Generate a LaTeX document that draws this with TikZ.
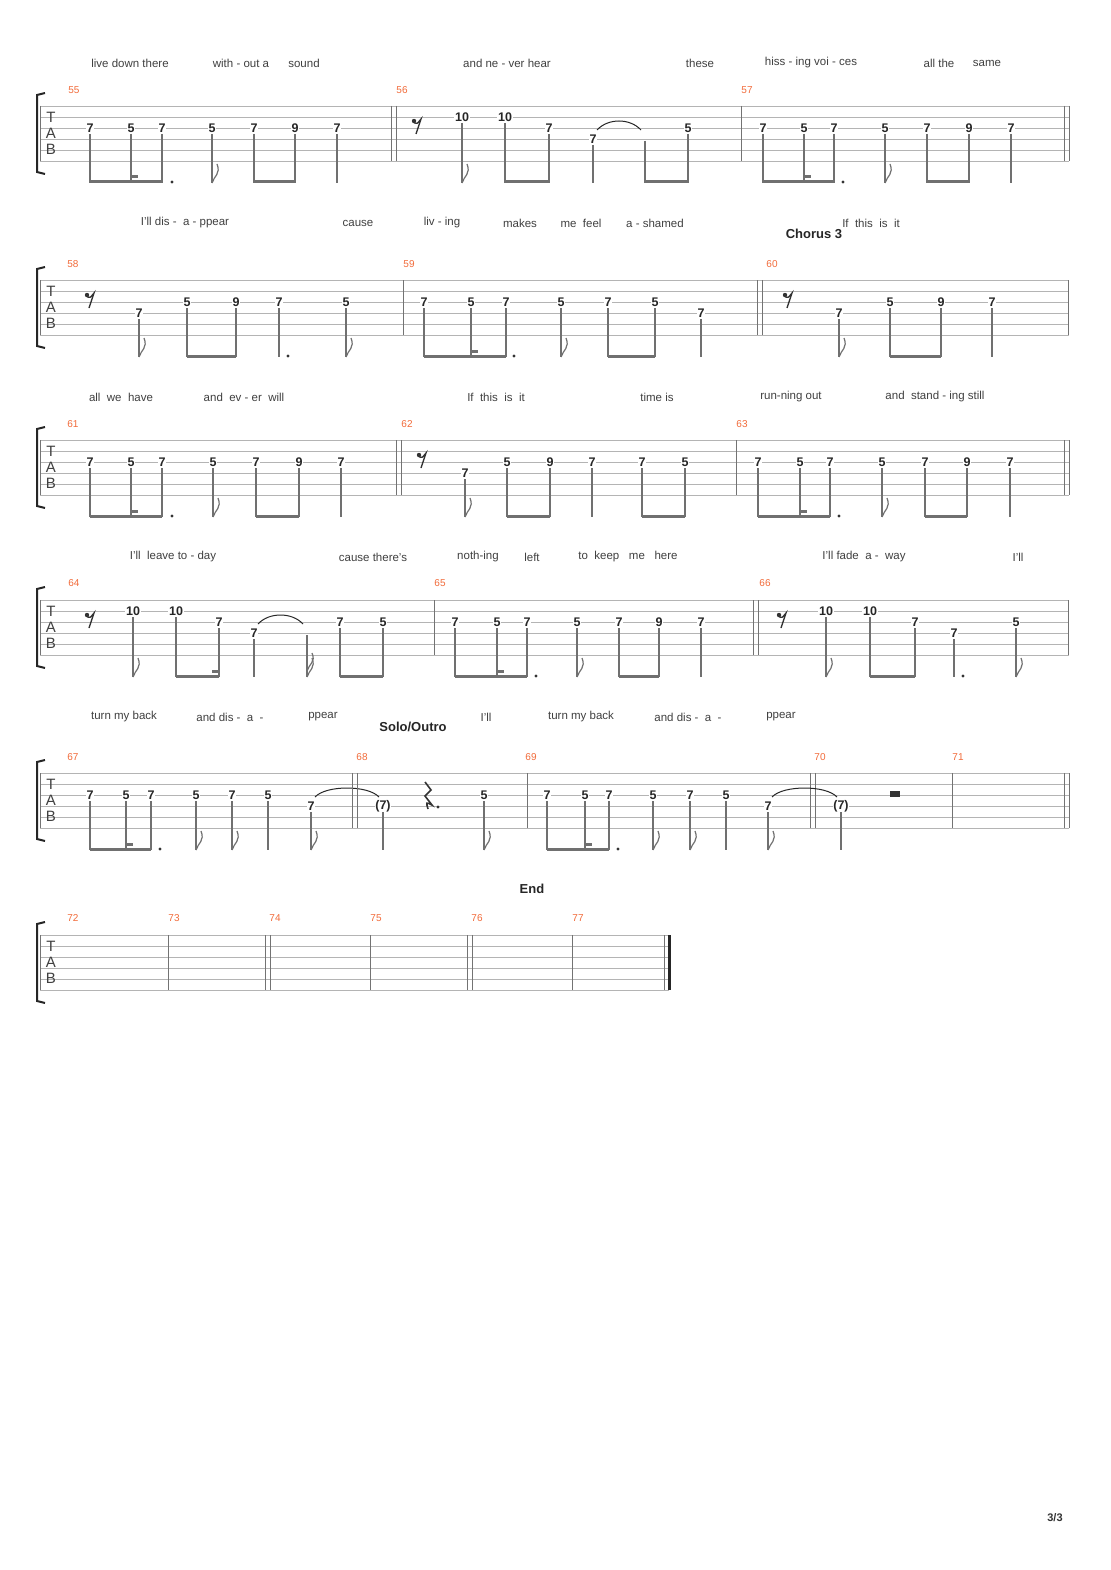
\documentclass[tikz,border=0pt]{standalone}
\usepackage{fontspec}
\setmainfont{Liberation Sans}
\definecolor{numorange}{HTML}{F26B3A}
\definecolor{staffgray}{HTML}{B4B4B4}
\definecolor{stemgray}{HTML}{707070}
\tikzset{
  fret/.style={fill=white, inner sep=0.6pt, font=\fontsize{12.5}{12}\selectfont\bfseries, text=black!85},
  lyric/.style={inner sep=0pt, font=\fontsize{11.5}{12}\selectfont, text=black!75},
  barnum/.style={inner sep=0pt, font=\fontsize{10}{10}\selectfont, text=numorange},
  section/.style={inner sep=0pt, font=\fontsize{13}{13}\selectfont\bfseries, text=black!85},
  staffline/.style={staffgray, line width=0.8pt},
  barline/.style={black!55, line width=0.9pt},
  stemline/.style={stemgray, line width=1.2pt},
  beamline/.style={stemgray, line width=3pt},
}
% staff with T A B and bracket: top, right end
\newcommand\staff[2]{%
  \foreach \i in {0,...,5} \draw[staffline] (40,#1+11*\i) -- (#2,#1+11*\i);
  \draw[barline] (40,#1) -- (40,#1+55);
  \draw[black!85, line width=2pt] (45,#1-13) -- (37,#1-11) -- (37,#1+66) -- (45,#1+68);
  \node[inner sep=0pt, font=\fontsize{15}{15}\selectfont, text=black!75] at (51,#1+11) {T};
  \node[inner sep=0pt, font=\fontsize{15}{15}\selectfont, text=black!75] at (51,#1+27) {A};
  \node[inner sep=0pt, font=\fontsize{15}{15}\selectfont, text=black!75] at (51,#1+43) {B};
}
% notes with stems: top, list x/string/text
\newcommand\notes[2]{%
  \foreach \x/\s/\t in {#2} {
    \draw[stemline] (\x,#1+11*\s-5) -- (\x,#1+77);
    \node[fret] at (\x,#1+11*\s-11) {\t};
  }
}
\newcommand\hidstem[2]{\draw[stemline] (#1,#2+35) -- (#1,#2+77);}
\newcommand\beam[3]{\draw[beamline] (#1,#3+76) -- (#2,#3+76);}
\newcommand\stub[2]{\draw[beamline] (#1,#2+71) -- (#1+7,#2+71);}
\newcommand\flag[2]{\draw[stemline] (#1,#2+77) .. controls (#1+2,#2+70) and (#1+9,#2+68) .. (#1+5,#2+58);}
\newcommand\dflag[2]{\flag{#1}{#2}\draw[stemline] (#1,#2+71) .. controls (#1+2,#2+64) and (#1+9,#2+62) .. (#1+5,#2+53);}
\newcommand\ndot[2]{\fill[black!80] (#1,#2+76) circle (1.6);}
\newcommand\erest[2]{\fill[black!80] (#1-3,#2+15) circle (2.2);
  \draw[black!80, line width=1.3pt] (#1-3,#2+17) .. controls (#1,#2+18) .. (#1+4,#2+13) -- (#1-1,#2+28);}
\newcommand\mtie[4]{\draw[black!85, line width=1pt] (#1+4,#3+11*#4-20) .. controls (#1+15,#3+11*#4-32) and (#2-15,#3+11*#4-32) .. (#2-4,#3+11*#4-20);}
\newcommand\mbar[2]{\draw[barline] (#1,#2) -- (#1,#2+55);}
\newcommand\dmbar[2]{\mbar{#1}{#2}\mbar{#1+5}{#2}}
\begin{document}
\begin{tikzpicture}[x=1pt, y=-1pt]
\useasboundingbox[fill=white] (0,0) rectangle (1110,1570);

%% system 1
\staff{106}{1069}
\foreach \x/\n in {74/55, 402/56, 747/57} \node[barnum] at (\x,90) {\n};
\notes{106}{90/3/7, 131/3/5, 162/3/7, 212/3/5, 254/3/7, 295/3/9, 337/3/7}
\beam{90}{162}{106} \stub{131}{106} \ndot{172}{106} \flag{212}{106} \beam{254}{295}{106}
\dmbar{391}{106}
\erest{417}{106}
\notes{106}{462/2/10, 505/2/10, 549/3/7, 593/4/7, 688/3/5}
\hidstem{645}{106}
\flag{462}{106} \beam{505}{549}{106} \beam{645}{688}{106} \mtie{593}{645}{106}{4}
\mbar{741}{106}
\notes{106}{763/3/7, 804/3/5, 834/3/7, 885/3/5, 927/3/7, 969/3/9, 1011/3/7}
\beam{763}{834}{106} \stub{804}{106} \ndot{843}{106} \flag{885}{106} \beam{927}{969}{106}
\dmbar{1064}{106}
\foreach \x/\t in {130/live down there, 241/with - out a, 304/sound, 507/and ne - ver hear, 700/these, 811/hiss - ing voi - ces, 939/all the, 987/same}
  \node[lyric] at (\x,63) {\t};

%% system 2
\staff{280}{1069}
\foreach \x/\n in {73/58, 409/59, 772/60} \node[barnum] at (\x,264) {\n};
\erest{90}{280}
\notes{280}{139/4/7, 187/3/5, 236/3/9, 279/3/7, 346/3/5}
\flag{139}{280} \beam{187}{236}{280} \ndot{288}{280} \flag{346}{280}
\mbar{403}{280}
\notes{280}{424/3/7, 471/3/5, 506/3/7, 561/3/5, 608/3/7, 655/3/5, 701/4/7}
\beam{424}{506}{280} \stub{471}{280} \ndot{514}{280} \flag{561}{280} \beam{608}{655}{280}
\dmbar{757}{280}
\erest{788}{280}
\notes{280}{839/4/7, 890/3/5, 941/3/9, 992/3/7}
\flag{839}{280} \beam{890}{941}{280}
\mbar{1068}{280}
\foreach \x/\t in {185/I'll dis - \ a - ppear, 358/cause, 442/liv - ing, 520/makes, 581/me \ feel, 655/a - shamed, 871/If \ this \ is \ it}
  \node[lyric] at (\x,223) {\t};
\node[section] at (814,234) {Chorus 3};

%% system 3
\staff{440}{1069}
\foreach \x/\n in {73/61, 407/62, 742/63} \node[barnum] at (\x,424) {\n};
\notes{440}{90/3/7, 131/3/5, 162/3/7, 213/3/5, 256/3/7, 299/3/9, 341/3/7}
\beam{90}{162}{440} \stub{131}{440} \ndot{172}{440} \flag{213}{440} \beam{256}{299}{440}
\dmbar{396}{440}
\erest{422}{440}
\notes{440}{465/4/7, 507/3/5, 550/3/9, 592/3/7, 642/3/7, 685/3/5}
\flag{465}{440} \beam{507}{550}{440} \beam{642}{685}{440}
\mbar{736}{440}
\notes{440}{758/3/7, 800/3/5, 830/3/7, 882/3/5, 925/3/7, 967/3/9, 1010/3/7}
\beam{758}{830}{440} \stub{800}{440} \ndot{839}{440} \flag{882}{440} \beam{925}{967}{440}
\dmbar{1064}{440}
\foreach \x/\t in {121/all \ we \ have, 244/and \ ev - er \ will, 496/If \ this \ is \ it, 657/time is, 791/run-ning out, 935/and \ stand - ing still}
  \node[lyric] at (\x,397) {\t};

%% system 4
\staff{600}{1069}
\foreach \x/\n in {74/64, 440/65, 765/66} \node[barnum] at (\x,583) {\n};
\erest{90}{600}
\notes{600}{133/2/10, 176/2/10, 219/3/7, 254/4/7, 340/3/7, 383/3/5}
\hidstem{307}{600}
\flag{133}{600} \beam{176}{219}{600} \stub{212}{600} \dflag{307}{600} \beam{340}{383}{600}
\mtie{254}{307}{600}{4}
\mbar{434}{600}
\notes{600}{455/3/7, 497/3/5, 527/3/7, 577/3/5, 619/3/7, 659/3/9, 701/3/7}
\beam{455}{527}{600} \stub{497}{600} \ndot{536}{600} \flag{577}{600} \beam{619}{659}{600}
\dmbar{753}{600}
\erest{782}{600}
\notes{600}{826/2/10, 870/2/10, 915/3/7, 954/4/7, 1016/3/5}
\flag{826}{600} \beam{870}{915}{600} \ndot{963}{600} \flag{1016}{600}
\mbar{1068}{600}
\foreach \x/\t in {173/I'll \ leave to - day, 373/cause there's, 478/noth-ing, 532/left, 628/to \ keep \ \ me \ \ here, 864/I'll fade \ a - \ way, 1018/I'll}
  \node[lyric] at (\x,557) {\t};

%% system 5
\staff{773}{1069}
\foreach \x/\n in {73/67, 362/68, 531/69, 820/70, 958/71} \node[barnum] at (\x,757) {\n};
\notes{773}{90/3/7, 126/3/5, 151/3/7, 196/3/5, 232/3/7, 268/3/5, 311/4/7}
\beam{90}{151}{773} \stub{126}{773} \ndot{160}{773} \flag{196}{773} \flag{232}{773} \flag{311}{773}
\notes{773}{383/4/(7)}
\mtie{311}{383}{773}{4}
\dmbar{352}{773}
\draw[black!80, line width=1.6pt] (425,782) -- (431,790) -- (425,796) -- (432,805) .. controls (426,802) .. (428,809);
\fill[black!80] (438,807) circle (1.6);
\notes{773}{484/3/5}
\flag{484}{773}
\mbar{527}{773}
\notes{773}{547/3/7, 585/3/5, 609/3/7, 653/3/5, 690/3/7, 726/3/5, 768/4/7}
\beam{547}{609}{773} \stub{585}{773} \ndot{618}{773} \flag{653}{773} \flag{690}{773} \flag{768}{773}
\dmbar{810}{773}
\notes{773}{841/4/(7)}
\mtie{768}{841}{773}{4}
\fill[black!80] (890,791) rectangle (900,797);
\mbar{952}{773}
\dmbar{1064}{773}
\foreach \x/\t in {124/turn my back, 230/and dis - \ a \ -, 323/ppear, 486/I'll, 581/turn my back, 688/and dis - \ a \ -, 781/ppear}
  \node[lyric] at (\x,717) {\t};
\node[section] at (413,727) {Solo/Outro};

%% system 6
\staff{935}{669}
\node[section] at (532,889) {End};
\foreach \x/\n in {73/72, 174/73, 275/74, 376/75, 477/76, 578/77} \node[barnum] at (\x,918) {\n};
\mbar{168}{935} \dmbar{265}{935} \mbar{370}{935} \dmbar{467}{935} \mbar{572}{935}
\mbar{664}{935}
\draw[black!85, line width=3pt] (669,935) -- (669,990);

\node[inner sep=0pt, font=\fontsize{11}{11}\selectfont\bfseries, text=black!80] at (1055,1518) {3/3};
\end{tikzpicture}
\end{document}
